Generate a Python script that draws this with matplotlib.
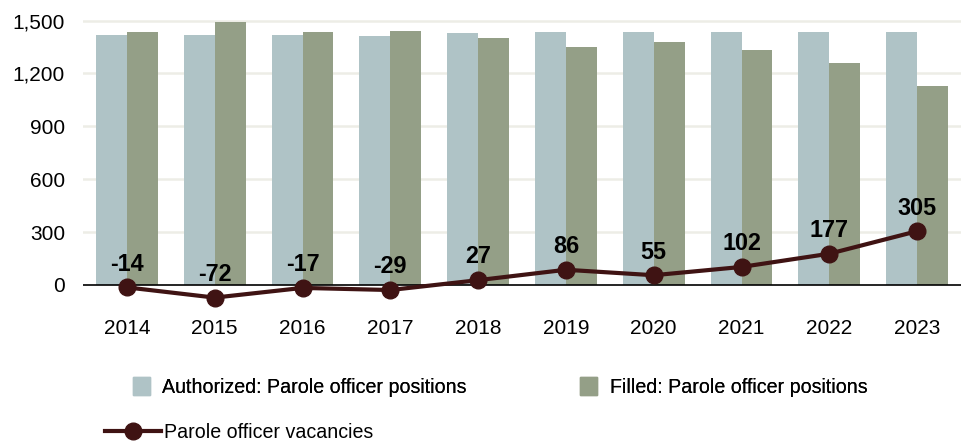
import numpy as np
import matplotlib.pyplot as plt
from matplotlib.lines import Line2D
from matplotlib.patches import Patch
from matplotlib.ticker import FuncFormatter

plt.rcParams['font.family'] = ['Liberation Sans', 'DejaVu Sans']

years = ['2014', '2015', '2016', '2017', '2018', '2019', '2020', '2021', '2022', '2023']
authorized = [1420, 1420, 1420, 1415, 1428, 1435, 1436, 1437, 1437, 1436]
filled = [1434, 1492, 1437, 1444, 1401, 1349, 1381, 1335, 1260, 1131]
vacancies = [-14, -72, -17, -29, 27, 86, 55, 102, 177, 305]

auth_color = '#AFC3C6'
filled_color = '#949F87'
line_color = '#3F1313'

fig = plt.figure(figsize=(9.61, 4.42), dpi=100)
ax = fig.add_axes([83 / 961, 1 - 305 / 442, 878 / 961, 290 / 442])

x = np.arange(len(years))
w = 0.353
ax.bar(x - w / 2, authorized, width=w, color=auth_color, zorder=2)
ax.bar(x + w / 2, filled, width=w, color=filled_color, zorder=2)
ax.plot(x, vacancies, color=line_color, lw=3, marker='o', markersize=12,
        zorder=4, clip_on=False)

# data labels above the vacancy points
for xi, v in zip(x, vacancies):
    ax.annotate(f'{v}', (xi, v), xytext=(0, 12), textcoords='offset points',
                ha='center', va='baseline', fontsize=16.8, fontweight='bold',
                color='black', zorder=5)

ax.set_xlim(-0.5, 9.5)
ax.set_ylim(-114, 1532)
ax.set_yticks(range(0, 1501, 300))
ax.yaxis.set_major_formatter(FuncFormatter(lambda v, p: f'{int(v):,}'))
ax.set_xticks(x)
ax.set_xticklabels(years)
ax.tick_params(axis='y', length=0, pad=13, labelsize=15)
ax.tick_params(axis='x', length=0, pad=10, labelsize=15)

for s in ax.spines.values():
    s.set_visible(False)
for g in range(300, 1501, 300):
    ax.axhline(g, color='#EDEDE6', lw=1.8, zorder=1)
ax.axhline(0, color='black', lw=1.2, zorder=3)

# legends
font_leg = 14.1
leg1 = fig.legend(handles=[Patch(color=auth_color), Patch(color=filled_color)],
                  labels=['Authorized: Parole officer positions', 'Filled: Parole officer positions'],
                  ncol=2, loc='center left', bbox_to_anchor=(133 / 961, 1 - 387 / 442),
                  frameon=False, fontsize=font_leg, handlelength=0.85, handleheight=1.05,
                  handletextpad=0.65, columnspacing=5.8, borderpad=0, borderaxespad=0)
fig.add_artist(leg1)
fig.legend(handles=[Line2D([], [], color=line_color, lw=3, marker='o', markersize=12)],
           labels=['Parole officer vacancies'], loc='center left',
           bbox_to_anchor=(105 / 961, 1 - 432 / 442), frameon=False, fontsize=font_leg,
           handlelength=2.85, handletextpad=0.15, borderpad=0, borderaxespad=0)

fig.savefig('out.png', dpi=100)
